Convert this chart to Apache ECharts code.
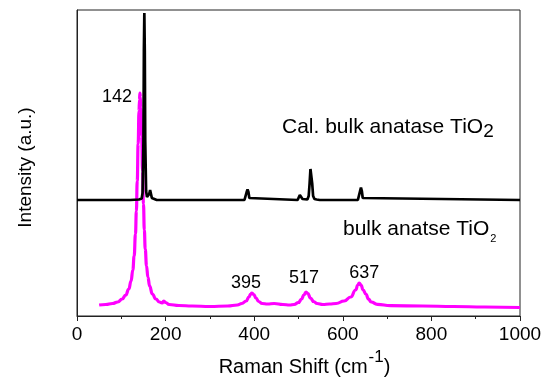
<!DOCTYPE html>
<html>
<head>
<meta charset="utf-8">
<script src="https://cdn.jsdelivr.net/npm/echarts@6/dist/echarts.min.js"></script>
<style>
  html, body { margin: 0; padding: 0; background: #fff; }
  #chart { width: 547px; height: 378px; }
</style>
</head>
<body>
<div id="chart"></div>
<script>
// Calculated spectrum of bulk anatase (offset upward)
const calcShift = [0, 120, 140, 146, 148, 150, 151, 152, 153, 154, 156, 158, 161, 163, 165, 167, 169, 173, 180,
  378, 381, 383, 385, 387, 389, 392,
  498, 501, 503, 505, 507, 509, 512, 520, 523, 525, 527, 528, 529, 531, 533, 536, 541, 545, 548,
  634, 637, 639, 641, 643, 645, 648, 1000];
const calcIntensity = [116, 116, 116.5, 117.5, 123, 175, 265, 303, 265, 175, 125, 119, 118, 122, 126, 122, 118, 116.5, 116,
  116, 118, 124, 126.5, 124, 118, 116,
  116, 117.5, 121, 122, 120, 117, 116, 116.5, 120, 132, 147, 148.5, 147, 132, 120, 117, 116.5, 117.5, 116,
  116, 118, 125, 128.5, 125, 118, 116, 116];

// Measured spectrum of bulk anatase
const bulkShift = [50, 65, 80, 92, 102, 110, 117, 122, 126, 129, 132, 134, 136, 138, 140, 141, 142, 143, 144, 146,
  148, 150, 152, 154, 157, 160, 164, 170, 178, 186, 192, 196, 200, 208, 230, 260, 300, 340, 362,
  372, 382, 388, 392, 395, 399, 404, 410, 418, 430, 445, 465, 480,
  490, 500, 507, 512, 517, 521, 527, 534, 542, 555, 570,
  585, 603, 618, 629, 634, 637, 641, 646, 652, 658, 664, 678, 708, 780, 850, 920, 1000];
const bulkIntensity = [11, 11.5, 12.5, 14, 17, 21, 27, 35, 46, 60, 82, 105, 135, 172, 205, 216, 223, 219, 208, 180,
  145, 112, 86, 67, 50, 39, 30, 22, 17, 14, 13, 15, 13.5, 11.5, 10.5, 10, 9.5, 10, 11,
  12.5, 15, 19, 22, 23, 21.5, 18, 14.5, 12.5, 12, 12.5, 11.5, 11,
  11.5, 13.5, 17, 21, 24, 22.5, 18, 14.5, 12.5, 11.5, 12,
  12.5, 15, 19, 26, 31, 33, 31, 26, 22, 17, 14, 11.7, 10.3, 10, 9.5, 9, 8.5];

// Labelled Raman modes of the measured spectrum
const peakShifts = [142, 395, 517, 637];
const peakLabelOffsets = [[-23, 4], [-6, -10], [-2, -14], [5, -10]];

const xTicks = { min: 0, max: 1000, interval: 200 };

const zip = (xs, ys) => xs.map((x, i) => [x, ys[i]]);
const intensityAt = s => bulkIntensity[bulkShift.indexOf(s)];

const FONT = "'Liberation Sans', Arial, sans-serif";

const chart = echarts.init(document.getElementById('chart'), null, { renderer: 'canvas' });

chart.setOption({
  animation: false,
  backgroundColor: '#fff',
  grid: {
    left: 77, right: 27, top: 10, bottom: 62,
    outerBoundsMode: 'none',
    containLabel: false,
    show: true, borderColor: '#222', borderWidth: 1, backgroundColor: 'transparent'
  },
  xAxis: {
    type: 'value',
    min: xTicks.min, max: xTicks.max, interval: xTicks.interval,
    name: 'Raman Shift (cm{sup|-1})',
    nameLocation: 'middle',
    nameGap: 28,
    nameTextStyle: {
      fontFamily: FONT, fontSize: 20, color: '#000', padding: [0, 0, 0, 12],
      rich: { sup: { fontFamily: FONT, fontSize: 17, color: '#000', padding: [0, 0, 20, 1] } }
    },
    axisLine: { show: true, lineStyle: { color: '#222', width: 1 } },
    axisTick: { show: true, length: 5, lineStyle: { color: '#222' } },
    minorTick: { show: true, splitNumber: 2, length: 3, lineStyle: { color: '#222' } },
    axisLabel: { fontFamily: FONT, fontSize: 19, color: '#000', margin: 9, formatter: v => String(v) },
    splitLine: { show: false },
    minorSplitLine: { show: false }
  },
  yAxis: {
    type: 'value',
    min: 0, max: 306,
    name: 'Intensity (a.u.)',
    nameLocation: 'middle',
    nameGap: 42,
    nameTextStyle: { fontFamily: FONT, fontSize: 19, color: '#000', padding: [0, 9, 0, 0] },
    axisLine: { show: true, lineStyle: { color: '#222', width: 1 } },
    axisTick: { show: false },
    axisLabel: { show: false },
    splitLine: { show: false }
  },
  series: [
    {
      name: 'Cal. bulk anatase TiO2',
      type: 'line',
      data: zip(calcShift, calcIntensity),
      showSymbol: false,
      symbol: 'none',
      lineStyle: { color: '#000', width: 2.7 },
      z: 3
    },
    {
      name: 'bulk anatse TiO2',
      type: 'line',
      data: zip(bulkShift, bulkIntensity),
      showSymbol: false,
      symbol: 'none',
      smooth: 0.5,
      smoothMonotone: 'x',
      lineStyle: { color: '#ff00ff', width: 3.2 },
      z: 2,
      markPoint: {
        symbol: 'circle',
        symbolSize: 0,
        silent: true,
        data: peakShifts.map((s, i) => ({
          coord: [s, intensityAt(s)],
          value: s,
          label: {
            show: true,
            position: 'inside',
            offset: peakLabelOffsets[i],
            formatter: String(s),
            fontFamily: FONT,
            fontSize: 18,
            color: '#000'
          }
        }))
      }
    }
  ],
  graphic: [
    {
      type: 'text',
      left: 282,
      top: 117,
      style: {
        text: '{m|Cal. bulk anatase TiO}{s|2}',
        rich: {
          m: { fontFamily: FONT, fontSize: 21, fill: '#000' },
          s: { fontFamily: FONT, fontSize: 19, fill: '#000', padding: [9, 0, 0, 0] }
        }
      }
    },
    {
      type: 'text',
      left: 343,
      top: 219,
      style: {
        text: '{m|bulk anatse TiO}{s|2}',
        rich: {
          m: { fontFamily: FONT, fontSize: 21, fill: '#000' },
          s: { fontFamily: FONT, fontSize: 11, fill: '#000', padding: [18, 0, 0, 1] }
        }
      }
    }
  ]
});
</script>
</body>
</html>
